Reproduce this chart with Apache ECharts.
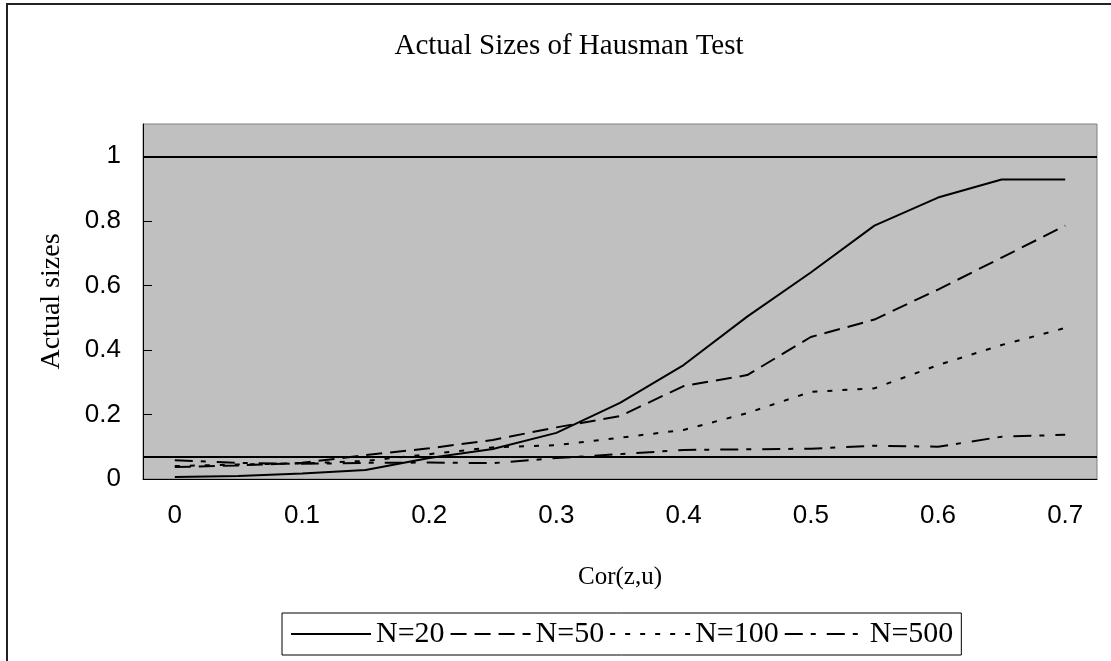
<!DOCTYPE html>
<html>
<head>
<meta charset="utf-8">
<script src="https://cdn.jsdelivr.net/npm/echarts@6/dist/echarts.min.js"></script>
<style>
  html, body { margin: 0; padding: 0; background: #fff; }
  #chart { width: 1111px; height: 661px; }
</style>
</head>
<body>
<div id="chart"></div>
<script>
// Cor(z,u) values on the x axis
var corValues = ['0', '0.05', '0.1', '0.15', '0.2', '0.25', '0.3', '0.35', '0.4', '0.45', '0.5', '0.55', '0.6', '0.65', '0.7']

// actual sizes for each sample size
var n20 = [0.006, 0.009, 0.017, 0.028, 0.065, 0.093, 0.143, 0.236, 0.353, 0.503, 0.64, 0.785, 0.872, 0.928, 0.928]
var n50 = [0.037, 0.042, 0.05, 0.074, 0.095, 0.121, 0.16, 0.195, 0.288, 0.322, 0.44, 0.494, 0.587, 0.686, 0.785]
var n100 = [0.04, 0.045, 0.048, 0.056, 0.077, 0.098, 0.105, 0.128, 0.152, 0.204, 0.27, 0.281, 0.353, 0.415, 0.468]
var n500 = [0.058, 0.05, 0.047, 0.05, 0.051, 0.049, 0.065, 0.077, 0.09, 0.092, 0.094, 0.103, 0.1, 0.131, 0.137]

var seriesNames = ['N=20', 'N=50', 'N=100', 'N=500']

// horizontal reference lines
var refLines = [1, 0.072]

var serif = '"Liberation Serif", "Times New Roman", serif'
var sans = '"Liberation Sans", Arial, sans-serif'

var chart = echarts.init(document.getElementById('chart'), null, { renderer: 'canvas' })

function lineSeries(name, data, dash) {
  return {
    name: name,
    type: 'line',
    data: data,
    symbol: 'none',
    showSymbol: false,
    lineStyle: { color: '#000', width: 2, type: dash },
    itemStyle: { color: '#000' },
    z: 3
  }
}

var series = [
  lineSeries(seriesNames[0], n20, 'solid'),
  lineSeries(seriesNames[1], n50, [16, 8]),
  lineSeries(seriesNames[2], n100, [5, 10]),
  lineSeries(seriesNames[3], n500, [18, 8, 5, 11])
]
series[0].markLine = {
  silent: true,
  symbol: 'none',
  label: { show: false },
  lineStyle: { color: '#000', width: 2, type: 'solid' },
  data: refLines.map(function (v) { return { yAxis: v } })
}

chart.setOption({
  animation: false,
  backgroundColor: '#fff',
  title: {
    text: 'Actual Sizes of Hausman Test',
    left: 564,
    top: 27,
    textAlign: 'center',
    textStyle: { fontFamily: serif, fontSize: 29, fontWeight: 'normal', color: '#000' }
  },
  graphic: [{
    type: 'rect',
    shape: { x: 7, y: 4, width: 1200, height: 700 },
    style: { fill: 'none', stroke: '#222', lineWidth: 2 },
    silent: true
  }],
  grid: {
    left: 143,
    top: 124,
    width: 954,
    height: 355,
    show: true,
    backgroundColor: '#c0c0c0',
    borderColor: '#808080',
    borderWidth: 1
  },
  legend: {
    data: seriesNames,
    left: 282,
    top: 613,
    orient: 'horizontal',
    itemWidth: 80,
    itemHeight: 14,
    itemGap: 5,
    padding: [6, 8],
    borderColor: '#000',
    borderWidth: 1,
    itemStyle: { opacity: 0, borderWidth: 0 },
    textStyle: { fontFamily: serif, fontSize: 30, color: '#000' }
  },
  xAxis: {
    type: 'category',
    data: corValues,
    boundaryGap: true,
    name: 'Cor(z,u)',
    nameLocation: 'middle',
    nameGap: 86,
    nameTextStyle: { fontFamily: serif, fontSize: 25, color: '#000' },
    axisLine: { lineStyle: { color: '#000', width: 1 } },
    axisTick: { inside: true, length: 8, interval: 1, lineStyle: { color: '#000' } },
    axisLabel: { interval: 1, margin: 24, fontFamily: sans, fontSize: 26, color: '#000' },
    splitLine: { show: false }
  },
  yAxis: {
    type: 'value',
    min: 0,
    max: 1.1,
    interval: 0.2,
    name: 'Actual sizes',
    nameLocation: 'middle',
    nameGap: 77,
    nameTextStyle: { fontFamily: serif, fontSize: 28, color: '#000' },
    axisLine: { show: true, lineStyle: { color: '#000', width: 1 } },
    axisTick: { show: true, inside: true, length: 9, lineStyle: { color: '#000' } },
    axisLabel: { margin: 22, showMaxLabel: false, fontFamily: sans, fontSize: 26, color: '#000' },
    splitLine: { show: false }
  },
  series: series
})
</script>
</body>
</html>
